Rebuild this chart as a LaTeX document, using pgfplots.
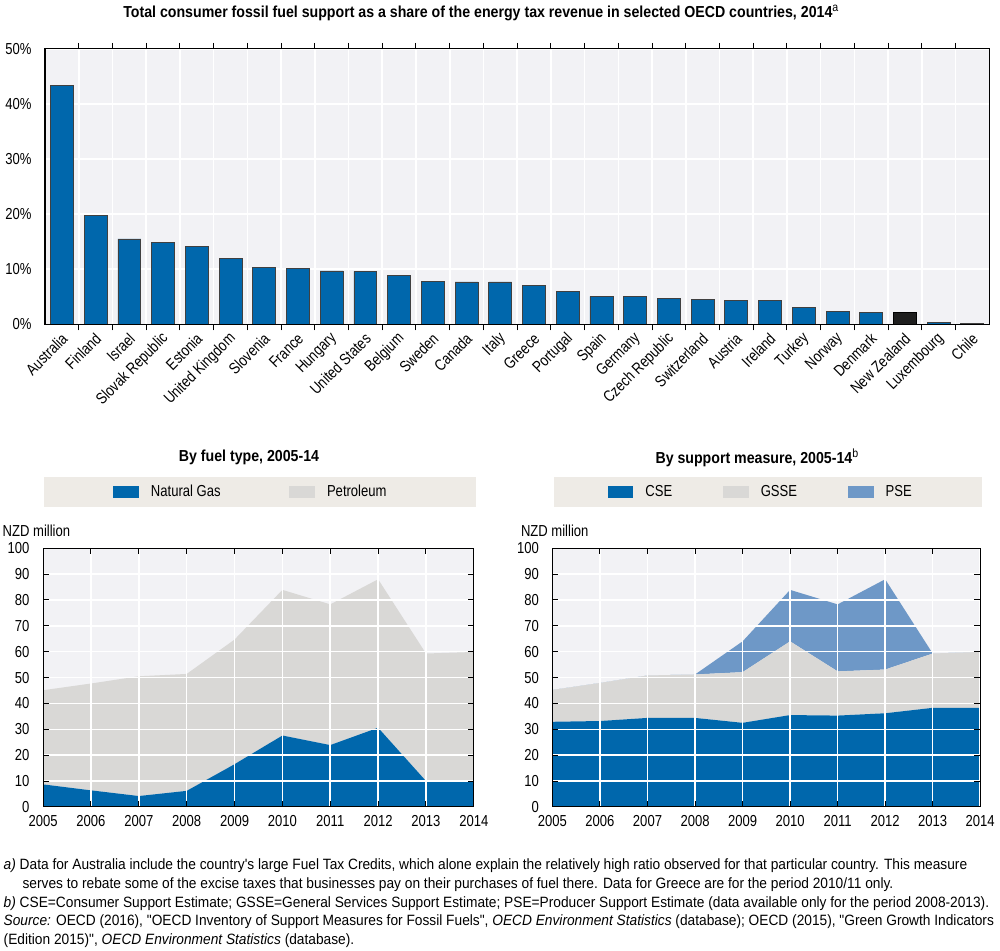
\documentclass[border=0pt]{standalone}
\usepackage{fontspec}
\setmainfont{Liberation Sans}[FakeStretch=0.82]
\newfontfamily\footfont{Liberation Sans}[FakeStretch=0.92]
\newfontfamily\titlefont{Liberation Sans}[FakeStretch=0.89]
\usepackage{pgfplots}
\pgfplotsset{compat=1.18}
\definecolor{oecdblue}{RGB}{0,103,172}
\definecolor{oecdgrey}{RGB}{217,216,214}
\definecolor{psecol}{RGB}{110,152,199}
\definecolor{plotbg}{RGB}{242,242,245}
\definecolor{legbg}{RGB}{238,235,230}
\definecolor{nzcol}{RGB}{30,30,30}
\pgfplotsset{
  oecd/.style={
    scale only axis,
    set layers,
    axis on top,
    axis background/.style={fill=plotbg},
    axis line style={black, line width=0.6pt},
    grid style={white, line width=0.8pt, /pgfplots/on layer=axis background},
    /pgf/number format/assume math mode=true,
    tick style={black, line width=0.5pt},
    major tick length=3pt,
    minor tick length=3pt,
    yticklabel style={xshift=-4pt},
  },
  areaplot/.style={
    oecd,
    anchor=south west,
    height=130pt,
    xmin=2005, xmax=2014, ymin=0, ymax=100,
    xtick={2005,...,2014}, ytick={0,10,...,100},
    xticklabel style={/pgf/number format/1000 sep={}, yshift=-1.5pt},
    grid=major,
    stack plots=y,
    legend columns=-1,
    legend image code/.code={\fill[##1] (0pt,-3pt) rectangle (13pt,3pt);},
    legend style={draw=none, fill=none, inner sep=0pt, anchor=west,
      /tikz/every odd column/.append style={column sep=4pt}},
  },
}
\begin{document}
\fontsize{8pt}{9.6pt}\selectfont
\begin{tikzpicture}
\path (0,0) rectangle (500pt,476pt);
% titles
\node[font=\titlefont\fontsize{8pt}{9.6pt}\selectfont\bfseries] at (240.75pt,471pt)
  {Total consumer fossil fuel support as a share of the energy tax revenue in selected OECD countries, 2014\textsuperscript{\mdseries a}};
\node[font=\titlefont\fontsize{8pt}{9.6pt}\selectfont\bfseries] at (124pt,247.5pt) {By fuel type, 2005-14};
\node[font=\titlefont\fontsize{8pt}{9.6pt}\selectfont\bfseries] at (379.5pt,247.5pt) {By support measure, 2005-14\textsuperscript{\mdseries b}};
% legend backgrounds
\fill[legbg] (21pt,222.5pt) rectangle (238pt,238pt);
\fill[legbg] (277.5pt,222.5pt) rectangle (492.5pt,238pt);
\node[anchor=west, inner sep=0pt] at (0pt,211pt) {NZD million};
\node[anchor=west, inner sep=0pt] at (260.5pt,211pt) {NZD million};

% top bar chart
\begin{axis}[oecd, at={(21.5pt,314.5pt)}, anchor=south west,
  width=474.5pt, height=138.5pt,
  xmin=-0.5, xmax=27.5, ymin=0, ymax=50,
  ybar, bar width=0.68, bar shift=0pt,
  xtick={0,...,27},
  xticklabels={Australia,Finland,Israel,Slovak Republic,Estonia,United Kingdom,Slovenia,France,Hungary,United States,Belgium,Sweden,Canada,Italy,Greece,Portugal,Spain,Germany,Czech Republic,Switzerland,Austria,Ireland,Turkey,Norway,Denmark,New Zealand,Luxembourg,Chile},
  major x tick style={draw=none},
  minor xtick={0.5,1.5,...,26.5},
  xminorgrids=true, ymajorgrids=true,
  minor grid style={white, line width=0.8pt, /pgfplots/on layer=axis background},
  ytick={0,10,...,50},
  yticklabel={\pgfmathprintnumber{\tick}\%},
  ytick style={draw=none},
  xticklabel style={rotate=45, anchor=east, inner sep=1pt, yshift=-3pt},
]
\addplot[fill=oecdblue, draw=black!75, line width=0.4pt] coordinates {
(0,43.3) (1,19.7) (2,15.5) (3,14.8) (4,14.1) (5,12.0) (6,10.4) (7,10.2)
(8,9.7) (9,9.6) (10,8.9) (11,7.8) (12,7.7) (13,7.7) (14,7.0) (15,6.0)
(16,5.1) (17,5.0) (18,4.7) (19,4.6) (20,4.4) (21,4.3) (22,3.1) (23,2.4)
(24,2.2) (26,0.3) (27,0.2)};
\addplot[fill=nzcol, draw=black, line width=0.4pt] coordinates {(25,2.2)};
\end{axis}

% bottom left
\begin{axis}[areaplot, at={(20.5pt,72pt)}, width=216.5pt,
  legend style={at={(0.1617,1.217)},
    /tikz/every even column/.append style={column sep=32.5pt}}]
\addplot[fill=oecdblue, draw=none] coordinates {
(2005,8.7) (2006,6.4) (2007,4.2) (2008,6.2) (2009,16.5) (2010,27.6)
(2011,23.9) (2012,30.6) (2013,10.0) (2014,10.0)} \closedcycle;
\addlegendentry{Natural Gas}
\addplot[fill=oecdgrey, draw=none] coordinates {
(2005,36.4) (2006,41.3) (2007,46.3) (2008,45.2) (2009,48.2) (2010,56.3)
(2011,54.4) (2012,57.4) (2013,49.3) (2014,49.9)} \closedcycle;
\addlegendentry{Petroleum}
\end{axis}

% bottom right
\begin{axis}[areaplot, at={(276.5pt,72pt)}, width=215pt,
  legend style={at={(0.128,1.217)},
    /tikz/every even column/.append style={column sep=23.5pt}}]
\addplot[fill=oecdblue, draw=none] coordinates {
(2005,32.9) (2006,33.2) (2007,34.4) (2008,34.4) (2009,32.5) (2010,35.5)
(2011,35.3) (2012,36.2) (2013,38.3) (2014,38.3)} \closedcycle;
\addlegendentry{CSE}
\addplot[fill=oecdgrey, draw=none] coordinates {
(2005,12.3) (2006,14.7) (2007,16.4) (2008,16.8) (2009,19.6) (2010,28.5)
(2011,17.1) (2012,16.9) (2013,21.0) (2014,21.6)} \closedcycle;
\addlegendentry{GSSE}
\addplot[fill=psecol, draw=none] coordinates {
(2005,0) (2006,0) (2007,0) (2008,0) (2009,11.9) (2010,19.9)
(2011,25.9) (2012,34.9) (2013,0) (2014,0)} \closedcycle;
\addlegendentry{PSE}
\end{axis}

% footnotes
\begin{scope}[every node/.style={anchor=base west, inner sep=0pt, font=\footfont\fontsize{7.5pt}{9pt}\selectfont}]
\node at (0.5pt,40.5pt) {\textit{a)} Data for Australia include the country's large Fuel Tax Credits, which alone explain the relatively high ratio observed for that particular country. This measure};
\node at (10pt,31pt) {serves to rebate some of the excise taxes that businesses pay on their purchases of fuel there. Data for Greece are for the period 2010/11 only.};
\node at (0.5pt,21.5pt) {\textit{b)} CSE=Consumer Support Estimate; GSSE=General Services Support Estimate; PSE=Producer Support Estimate (data available only for the period 2008-2013).};
\node at (0.5pt,12.5pt) {\textit{Source:} OECD (2016), "OECD Inventory of Support Measures for Fossil Fuels", \textit{OECD Environment Statistics} (database); OECD (2015), "Green Growth Indicators};
\node at (0.5pt,3pt) {(Edition 2015)", \textit{OECD Environment Statistics} (database).};
\end{scope}
\end{tikzpicture}
\end{document}
